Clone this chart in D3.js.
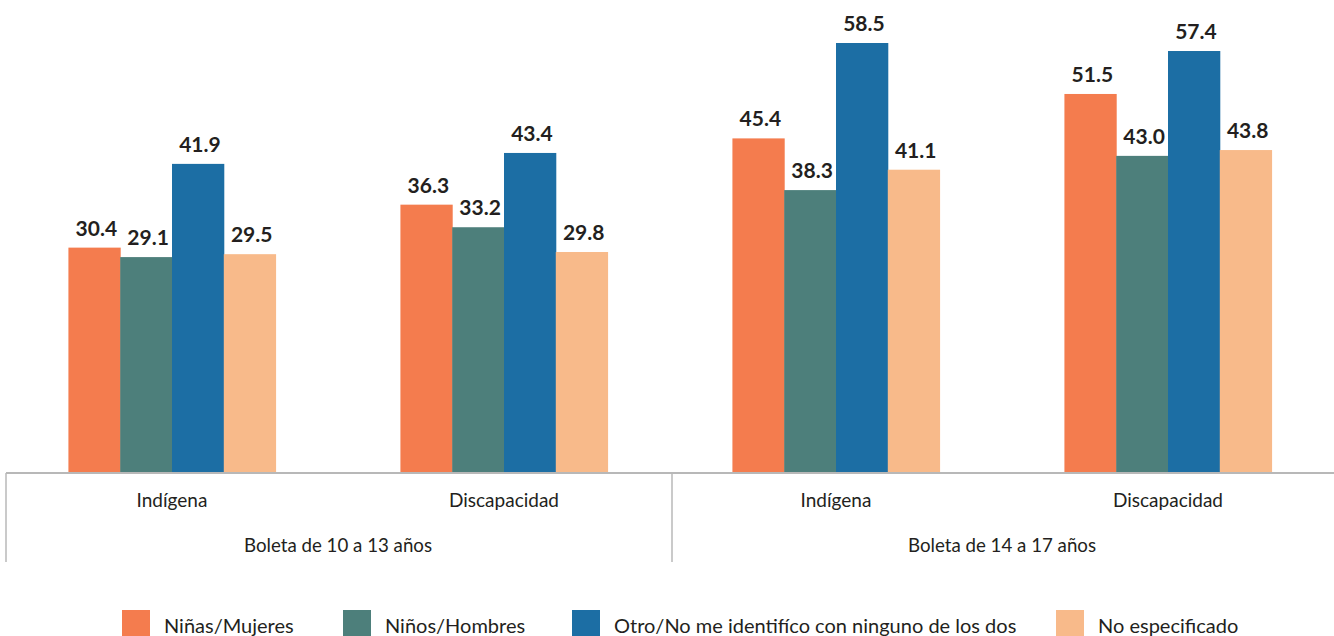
<!DOCTYPE html>
<html><head><meta charset="utf-8">
<script src="https://cdn.jsdelivr.net/npm/d3@7"></script>
<style>body{margin:0;background:#fff}svg{display:block}text{font-family:Lato,"Open Sans",sans-serif}</style>
</head><body><svg id="c" width="1334" height="636"></svg>
<script>
const groups = ["Boleta de 10 a 13 años", "Boleta de 14 a 17 años"];
const categories = ["Indígena", "Discapacidad", "Indígena", "Discapacidad"];
const series = ["Niñas/Mujeres", "Niños/Hombres", "Otro/No me identifíco con ninguno de los dos", "No especificado"];
const colors = ["#F47C4E", "#4D7F7B", "#1C6EA4", "#F8BA8A"];
const nm = [30.4, 36.3, 45.4, 51.5];
const nh = [29.1, 33.2, 38.3, 43.0];
const otro = [41.9, 43.4, 58.5, 57.4];
const noesp = [29.5, 29.8, 41.1, 43.8];
const values = [nm, nh, otro, noesp];

const svg = d3.select("#c");
const axisY = 473;
const x0 = d3.scaleBand().domain(d3.range(categories.length)).range([6, 1334]).paddingInner(0.376).paddingOuter(0.188);
const x1 = d3.scaleBand().domain(d3.range(series.length)).range([0, x0.bandwidth()]);
const y = d3.scaleLinear().domain([0, 58.5]).range([469, 43]);

const g = svg.append("g");
categories.forEach((c, i) => {
  series.forEach((s, j) => {
    const v = values[j][i];
    g.append("rect").attr("x", x0(i) + x1(j)).attr("y", y(v))
      .attr("width", x1.bandwidth() + 0.5).attr("height", axisY - y(v))
      .attr("fill", colors[j]);
    g.append("text").attr("x", x0(i) + x1(j) + x1.bandwidth() / 2 + 2).attr("y", y(v) - 12)
      .attr("text-anchor", "middle").attr("font-size", 21).attr("font-weight", 700)
      .attr("fill", "#231F20").text(v.toFixed(1));
  });
});

// axis
svg.append("line").attr("x1", 6).attr("x2", 1334).attr("y1", axisY).attr("y2", axisY).attr("stroke", "#b8b8b8").attr("stroke-width", 2);
[6, 672].forEach(xx => svg.append("line").attr("x1", xx).attr("x2", xx).attr("y1", axisY).attr("y2", 562).attr("stroke", "#b8b8b8").attr("stroke-width", 1.5));
categories.forEach((c, i) => {
  svg.append("text").attr("x", x0(i) + x0.bandwidth() / 2).attr("y", 507).attr("text-anchor", "middle")
    .attr("font-size", 19).attr("fill", "#231F20").text(c);
});
groups.forEach((gname, k) => {
  const cx = (x0(2 * k) + x0(2 * k + 1) + x0.bandwidth()) / 2;
  svg.append("text").attr("x", cx).attr("y", 552).attr("text-anchor", "middle")
    .attr("font-size", 18.7).attr("fill", "#231F20").text(gname);
});

// legend
const legX = [122, 343, 572, 1056];
series.forEach((s, j) => {
  svg.append("rect").attr("x", legX[j]).attr("y", 610).attr("width", 28).attr("height", 26).attr("fill", colors[j]);
  svg.append("text").attr("x", legX[j] + 42).attr("y", 633).attr("font-size", 20).attr("fill", "#231F20").text(s);
});
</script></body></html>
